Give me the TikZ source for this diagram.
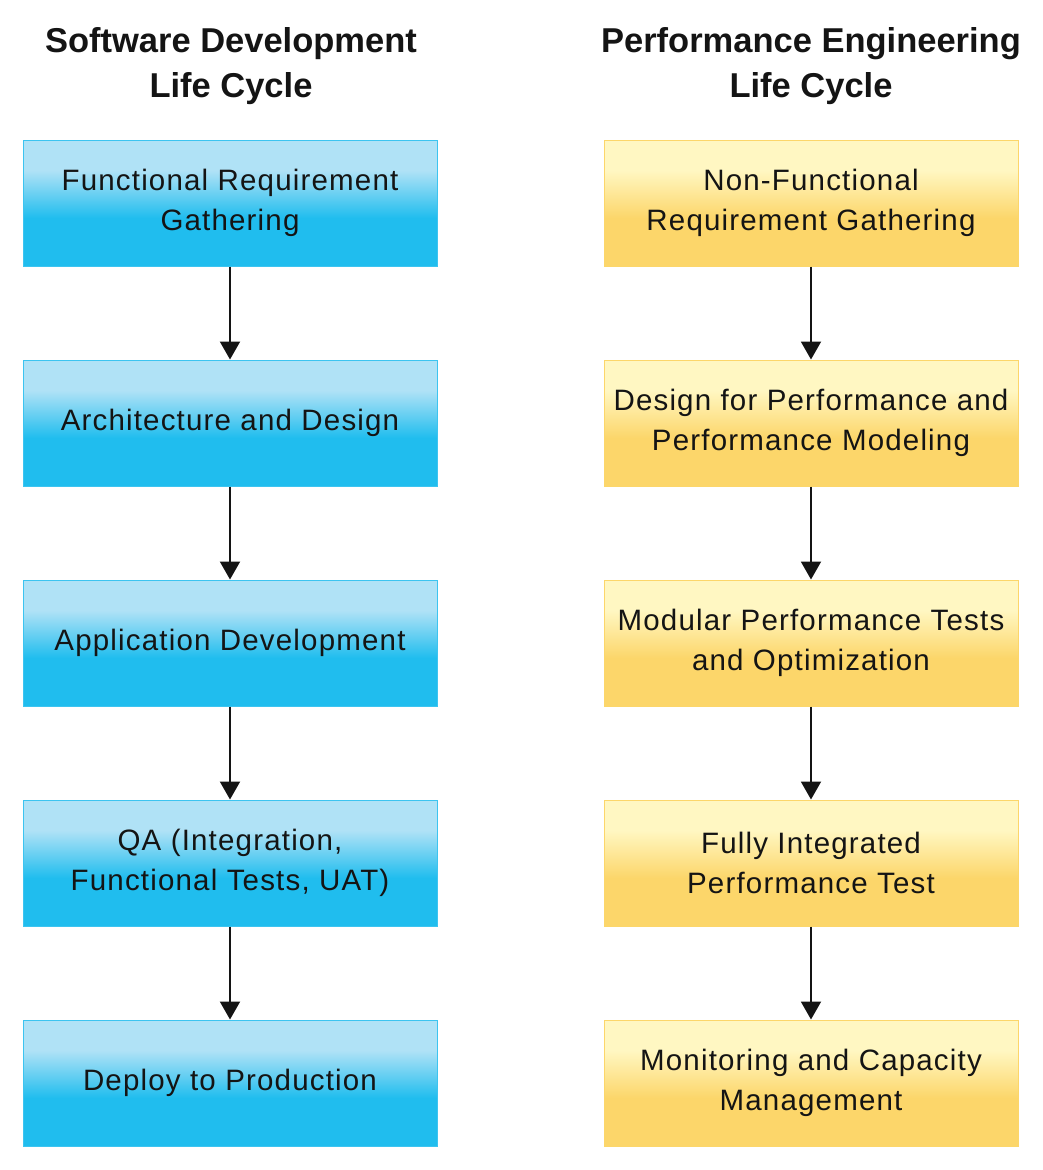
\documentclass[tikz,border=0pt]{standalone}
\usepackage{fontspec}
\setmainfont{Liberation Sans}
\newfontfamily\titlefont{Liberation Sans}
\newfontfamily\bodyfont[LetterSpace=4]{Liberation Sans}
\usetikzlibrary{arrows.meta}
\definecolor{blight}{HTML}{B0E2F6}
\definecolor{bdark}{HTML}{20BDEE}
\definecolor{bedge}{HTML}{3CC4F0}
\definecolor{ylight}{HTML}{FFF7C2}
\definecolor{ydark}{HTML}{FCD66A}
\definecolor{yedge}{HTML}{FCD66A}
\definecolor{ink}{HTML}{141414}
\pgfdeclareverticalshading{blueshade}{100bp}{color(0bp)=(bdark); color(44bp)=(bdark); color(63bp)=(blight); color(100bp)=(blight)}
\pgfdeclareverticalshading{yellowshade}{100bp}{color(0bp)=(ydark); color(44bp)=(ydark); color(63bp)=(ylight); color(100bp)=(ylight)}
\tikzset{
  stagebox/.style={rectangle, minimum width=414pt, minimum height=126pt, inner sep=0pt,
    line width=1pt, text=ink, align=center,
    font=\bodyfont\fontsize{29.5}{40}\selectfont},
  bluebox/.style={stagebox, draw=bedge, shading=blueshade},
  yellowbox/.style={stagebox, draw=yedge, shading=yellowshade},
  heading/.style={align=center, text=ink, font=\titlefont\bfseries\fontsize{34.5}{45}\selectfont},
  flow/.style={line width=2pt, draw=ink, -{Triangle[width=20pt,length=18pt]}}
}
\begin{document}
\begin{tikzpicture}[x=1pt,y=-1pt]
\useasboundingbox (0,0) rectangle (1043,1170);
\node[heading] (t1) at (231,66) {Software Development\\Life Cycle};
\node[heading] (t2) at (811,66) {Performance Engineering\\Life Cycle};

\node[bluebox] (a1) at (230,203) {Functional Requirement\\Gathering};
\node[bluebox] (a2) at (230,423) {Architecture and Design};
\node[bluebox] (a3) at (230,643) {Application Development};
\node[bluebox] (a4) at (230,863) {QA (Integration,\\Functional Tests, UAT)};
\node[bluebox] (a5) at (230,1083) {Deploy to Production};

\node[yellowbox] (b1) at (811,203) {Non-Functional\\Requirement Gathering};
\node[yellowbox] (b2) at (811,423) {Design for Performance and\\Performance Modeling};
\node[yellowbox] (b3) at (811,643) {Modular Performance Tests\\and Optimization};
\node[yellowbox] (b4) at (811,863) {Fully Integrated\\Performance Test};
\node[yellowbox] (b5) at (811,1083) {Monitoring and Capacity\\Management};

\draw[flow] (a1) -- (a2);
\draw[flow] (a2) -- (a3);
\draw[flow] (a3) -- (a4);
\draw[flow] (a4) -- (a5);
\draw[flow] (b1) -- (b2);
\draw[flow] (b2) -- (b3);
\draw[flow] (b3) -- (b4);
\draw[flow] (b4) -- (b5);
\end{tikzpicture}
\end{document}
